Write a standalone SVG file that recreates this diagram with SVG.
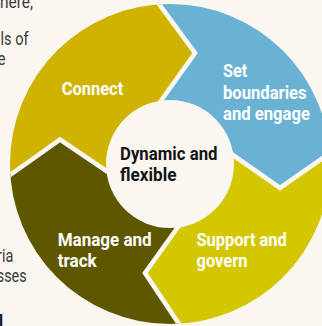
<svg xmlns="http://www.w3.org/2000/svg" width="322" height="326" viewBox="0 0 322 326">
  <style>
    .bg { fill: #FAF6F0; }
    .lbl { font-family: Roboto, "Liberation Sans", "DejaVu Sans", sans-serif; font-weight: 700; font-size: 18.5px; fill: #FFFFFF; }
    .ctr { font-family: Roboto, "Liberation Sans", "DejaVu Sans", sans-serif; font-weight: 700; font-size: 18.5px; fill: #141414; }
    .side { font-family: Roboto, "Liberation Sans", "DejaVu Sans", sans-serif; font-weight: 400; font-size: 18px; fill: #3A3A3A; }
    .sep { fill: none; stroke: #FAF6F0; stroke-width: 4.6; stroke-linejoin: miter; stroke-miterlimit: 10; }
  </style>
  <defs>
    <clipPath id="ring">
      <circle cx="170" cy="164" r="160"/>
    </clipPath>
  </defs>
  <rect class="bg" x="0" y="0" width="322" height="326"/>

  <g id="side-text">
    <text class="side" x="0" y="8" textLength="33" lengthAdjust="spacingAndGlyphs">here,</text>
    <text class="side" x="0.5" y="45" textLength="28" lengthAdjust="spacingAndGlyphs">ls of</text>
    <text class="side" x="-2.5" y="65" textLength="8" lengthAdjust="spacingAndGlyphs">e</text>
    <text class="side" x="-3" y="261.7" textLength="16.3" lengthAdjust="spacingAndGlyphs">ria</text>
    <text class="side" x="-3.3" y="281.7" textLength="30" lengthAdjust="spacingAndGlyphs">sses</text>
    <text class="side" x="-1.6" y="328" style="font-weight:700;fill:#222">l</text>
  </g>

  <g clip-path="url(#ring)">
    <g id="connect">
      <polygon fill="#CFB300" points="170,164 106.5,171 60,139.5 -5,185.6 -30,-30 148,-11 195,53 161.5,100"/>
    </g>
    <g id="set-boundaries">
      <polygon fill="#69B2D3" points="170,164 161.5,100 195,53 148,-11 350,-30 345,142.5 280,188 234,156"/>
    </g>
    <g id="support-govern">
      <polygon fill="#D4C700" points="170,164 234,156 280,188 345,142.5 350,350 189,339 145,273 178,227"/>
    </g>
    <g id="manage-track">
      <polygon fill="#5E5700" points="170,164 178,227 145,273 189,339 -30,350 -5,185.6 60,139.5 106.5,171"/>
    </g>
    <g id="connectors">
      <polyline class="sep" points="151.5,114 195,53 148,-11"/>
      <polyline class="sep" points="220,146 280,188 345,142.5"/>
      <polyline class="sep" points="188,213 145,273 189,339"/>
      <polyline class="sep" points="120.5,180.5 60,139.5 -5,185.6"/>
    </g>
  </g>

  <g id="center">
    <circle class="bg" cx="170" cy="164" r="64"/>
    <text class="ctr" x="120" y="160" textLength="97.5" lengthAdjust="spacingAndGlyphs">Dynamic and</text>
    <text class="ctr" x="120" y="181" textLength="56.5" lengthAdjust="spacingAndGlyphs">flexible</text>
  </g>

  <g id="labels">
    <text class="lbl" x="61.7" y="95" textLength="61.6" lengthAdjust="spacingAndGlyphs">Connect</text>
    <text class="lbl" x="223" y="77" textLength="24.3" lengthAdjust="spacingAndGlyphs">Set</text>
    <text class="lbl" x="223" y="98.5" textLength="83.6" lengthAdjust="spacingAndGlyphs">boundaries</text>
    <text class="lbl" x="223" y="119.5" textLength="87" lengthAdjust="spacingAndGlyphs">and engage</text>
    <text class="lbl" x="196.5" y="246" textLength="90.3" lengthAdjust="spacingAndGlyphs">Support and</text>
    <text class="lbl" x="196.5" y="266.5" textLength="51" lengthAdjust="spacingAndGlyphs">govern</text>
    <text class="lbl" x="57.7" y="246" textLength="94" lengthAdjust="spacingAndGlyphs">Manage and</text>
    <text class="lbl" x="57.7" y="266.5" textLength="39" lengthAdjust="spacingAndGlyphs">track</text>
  </g>
</svg>
